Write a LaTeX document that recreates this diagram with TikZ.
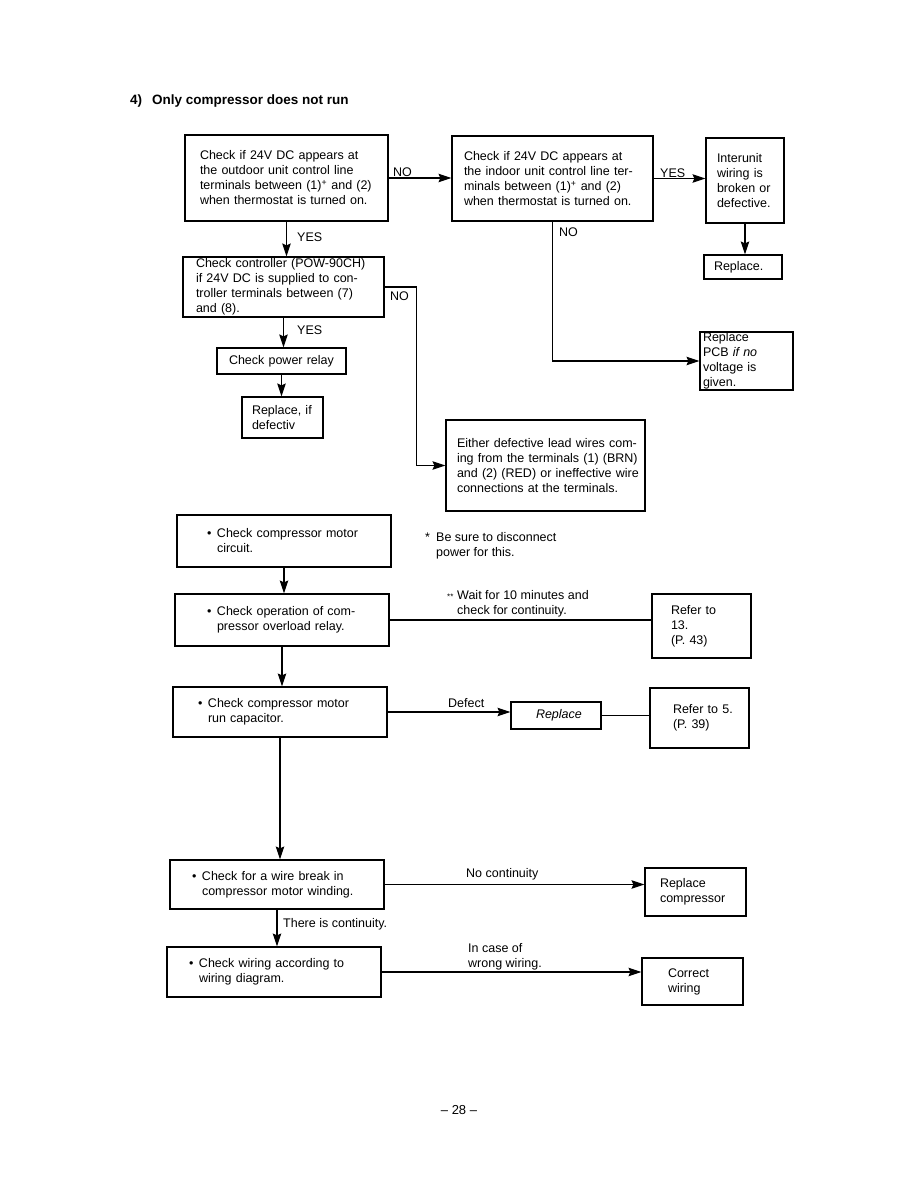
\documentclass[tikz,border=0pt]{standalone}
\usepackage{fontspec}
\setmainfont{Liberation Sans}
\usetikzlibrary{arrows.meta, positioning}

\newcommand{\bul}{\makebox[10pt][l]{\textbullet}}
\newcommand{\bulsp}{\hspace*{10pt}}

\begin{document}
\begin{tikzpicture}[x=1pt, y=-1pt, font=\fontsize{12.5}{15}\selectfont, >={Stealth[length=13pt,width=8.5pt,inset=2pt]},
    box/.style={draw, line width=1.1pt, align=left, inner ysep=0pt},
    lbl/.style={anchor=west, inner sep=0pt, align=left},
    line/.style={line width=1.1pt}]
  \useasboundingbox (0,0) rectangle (918,1188);
  \node[lbl, font=\fontsize{13.5}{16}\selectfont\bfseries] (title) at (130,101) {4)\hspace{10pt}Only compressor does not run};

  % upper part
  \node[box, text width=173pt, inner xsep=15pt, minimum height=86pt] (out) at (286.5,178)
    {Check if 24V DC appears at\\the outdoor unit control line\\terminals between (1)\textsuperscript{+} and (2)\\when thermostat is turned on.};
  \node[box, text width=177pt, inner xsep=12pt, minimum height=85pt] (in) at (552.5,178.5)
    {Check if 24V DC appears at\\the indoor unit control line ter-\\minals between (1)\textsuperscript{+} and (2)\\when thermostat is turned on.};
  \node[box, text width=56pt, inner xsep=11pt, minimum height=85pt] (iu) at (745,180.5)
    {Interunit\\wiring is\\broken or\\defective.};
  \node[box, text width=58pt, inner xsep=10pt, minimum height=24pt] (rep1) at (743,267) {Replace.};
  \node[box, text width=175pt, inner xsep=13pt, minimum height=60pt] (ctrl) at (283.5,287)
    {Check controller (POW-90CH)\\if 24V DC is supplied to con-\\troller terminals between (7)\\and (8).};
  \node[box, text width=105pt, inner xsep=12pt, minimum height=26pt] (relay) at (281.5,361) {Check power relay};
  \node[box, text width=61pt, inner xsep=10pt, minimum height=41pt] (rep2) at (282.5,417.5) {Replace, if\\defectiv};
  \node[box, text width=87pt, inner xsep=3pt, minimum height=58pt] (pcb) at (746.5,361)
    {Replace\\PCB \textit{if no}\\voltage is\\given.};
  \node[box, text width=177pt, inner xsep=11pt, minimum height=91pt] (lead) at (545.5,465.5)
    {\mbox{Either defective lead wires com-}\\\mbox{ing from the terminals (1) (BRN)}\\\mbox{and (2) (RED) or ineffective wire}\\connections at the terminals.};

  \node[lbl] (no1) at (393,172) {NO};
  \node[lbl] (yes1) at (660,173) {YES};
  \node[lbl] (yes2) at (297,237) {YES};
  \node[lbl] (no2) at (559,232) {NO};
  \node[lbl] (no3) at (390,296) {NO};
  \node[lbl] (yes3) at (297,330) {YES};

  \draw[line, ->] (out.east) -- (out.east -| in.west);
  \draw[line, ->] (in.east) -- (in.east -| iu.west);
  \draw[line, ->] (iu.south) -- (iu.south |- rep1.north);
  \draw[line, ->] (out.south) -- (out.south |- ctrl.north);
  \draw[line, ->] (in.south) |- (pcb.west);
  \draw[line, ->] (ctrl.east) -- ++(32,0) |- (lead.west);
  \draw[line, ->] (ctrl.south) -- (ctrl.south |- relay.north);
  \draw[line, ->] (relay.south) -- (relay.south |- rep2.north);

  % lower part
  \node[box, text width=154pt, inner xsep=30pt, minimum height=52pt] (mot) at (284,541)
    {\bul Check compressor motor\\\bulsp circuit.};
  \node[box, text width=150pt, inner xsep=32pt, minimum height=52pt] (ovl) at (282,620)
    {\bul Check operation of com-\\\bulsp pressor overload relay.};
  \node[box, text width=61pt, inner xsep=19pt, minimum height=64pt] (ref13) at (701.5,626)
    {Refer to\\13.\\(P. 43)};
  \node[box, text width=164pt, inner xsep=25pt, minimum height=50pt] (cap) at (280,712)
    {\bul Check compressor motor\\\bulsp run capacitor.};
  \node[box, text width=40pt, inner xsep=25pt, minimum height=27pt, font=\fontsize{12.5}{15}\selectfont\itshape] (rpl) at (556,715.5) {Replace};
  \node[box, text width=53pt, inner xsep=23pt, minimum height=60pt] (ref5) at (699.5,718)
    {\mbox{Refer to 5.}\\(P. 39)};
  \node[box, text width=170pt, inner xsep=22pt, minimum height=49pt] (brk) at (277,884.5)
    {\bul Check for a wire break in\\\bulsp compressor motor winding.};
  \node[box, text width=71pt, inner xsep=15pt, minimum height=48pt] (rcomp) at (695.5,892)
    {Replace\\compressor};
  \node[box, text width=170pt, inner xsep=22pt, minimum height=50pt] (wir) at (274,972)
    {\bul Check wiring according to\\\bulsp wiring diagram.};
  \node[box, text width=49pt, inner xsep=26pt, minimum height=47pt] (cw) at (692.5,981.5)
    {Correct\\wiring};

  \node[lbl] (note1) at (425,545.5) {\makebox[11pt][l]{*}Be sure to disconnect\\\hspace*{11pt}power for this.};
  \node[lbl] (note2) at (447,603.5) {\makebox[10pt][l]{\fontsize{8}{8}\selectfont**}Wait for 10 minutes and\\\hspace*{10pt}check for continuity.};
  \node[lbl] (defect) at (448,703) {Defect};
  \node[lbl] (nocont) at (466,874) {No continuity};
  \node[lbl] (cont) at (283,924) {There is continuity.};
  \node[lbl] (wrong) at (468,956.5) {In case of\\wrong wiring.};

  \draw[line, ->] (mot.south) -- (mot.south |- ovl.north);
  \draw[line] (ovl.east) -- (ovl.east -| ref13.west);
  \draw[line, ->] (ovl.south) -- (ovl.south |- cap.north);
  \draw[line, ->] (cap.east) -- (cap.east -| rpl.west);
  \draw[line] (rpl.east) -- (rpl.east -| ref5.west);
  \draw[line, ->] (cap.south) -- (cap.south |- brk.north);
  \draw[line, ->] (brk.east) -- (brk.east -| rcomp.west);
  \draw[line, ->] (brk.south) -- (brk.south |- wir.north);
  \draw[line, ->] (wir.east) -- (wir.east -| cw.west);

  \node[font=\fontsize{13}{15}\selectfont] (page) at (459,1110) {\textendash\ 28 \textendash};
\end{tikzpicture}
\end{document}
